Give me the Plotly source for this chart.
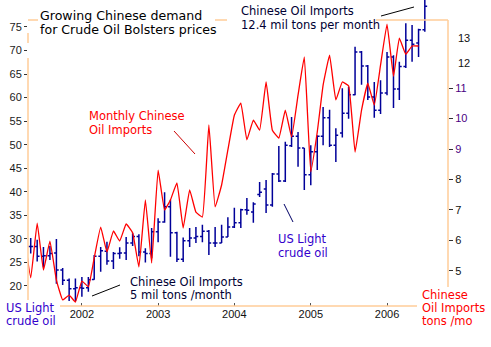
import plotly.graph_objects as go
import pandas as pd

# ---------------- data ----------------
bar_months = pd.date_range("2001-05-01", periods=63, freq="MS")
imp_months = pd.date_range("2001-04-01", periods=63, freq="MS")

oil_open = [28.4, 28.4, 26.3, 26.4, 27.0, 23.4, 21.2, 19.4, 19.6, 19.6,
            21.4, 26.3, 27.4, 25.3, 26.9, 27.0, 29.1, 30.5, 27.2, 26.9,
            31.5, 33.6, 36.8, 31.3, 25.7, 29.6, 30.2, 30.5, 31.6, 29.1,
            29.1, 30.4, 32.5, 33.4, 36.2, 35.7, 39.4, 40.6, 37.2, 43.8,
            42.3, 49.8, 51.8, 49.3, 43.6, 48.5, 51.8, 55.7, 49.9, 52.5,
            56.7, 60.6, 69.7, 66.7, 60.1, 57.3, 61.0, 68.6, 61.8, 66.6,
            72.2, 71.6, 74.4]
oil_high = [30.2, 29.8, 28.3, 28.5, 30.0, 23.8, 21.6, 21.6, 21.9, 21.9,
            26.6, 28.3, 29.4, 27.2, 28.2, 30.4, 31.2, 31.0, 28.0, 32.3,
            34.4, 39.9, 38.3, 31.5, 30.3, 32.3, 32.5, 33.0, 31.9, 32.5,
            33.0, 34.6, 36.6, 36.4, 38.7, 37.8, 42.1, 42.5, 44.0, 49.7,
            50.6, 55.9, 52.7, 49.3, 49.9, 52.0, 58.0, 57.4, 53.5, 62.0,
            62.3, 70.8, 69.9, 66.9, 63.3, 63.7, 69.7, 69.0, 67.6, 75.8,
            75.4, 74.6, 81.5]
oil_low = [26.9, 25.2, 24.0, 25.5, 20.5, 20.2, 16.8, 16.8, 17.7, 18.8,
           21.3, 23.0, 24.5, 23.6, 25.8, 25.5, 28.5, 26.3, 25.0, 25.9,
           29.3, 33.4, 26.2, 25.1, 25.1, 28.3, 29.1, 29.3, 26.6, 28.3,
           29.1, 30.4, 32.3, 32.3, 35.1, 33.4, 38.9, 35.5, 36.8, 42.1,
           42.1, 49.5, 45.3, 40.4, 41.4, 44.6, 49.9, 49.5, 46.3, 51.5,
           55.5, 60.5, 62.7, 59.5, 55.7, 56.5, 60.5, 57.8, 59.5, 66.3,
           67.6, 68.6, 74.0]
oil_close = [28.4, 26.3, 26.4, 26.9, 23.4, 21.2, 19.4, 19.6, 19.5, 21.3,
             26.3, 27.5, 25.3, 26.9, 27.0, 29.1, 30.5, 27.2, 26.9, 31.5,
             33.6, 36.8, 31.3, 25.7, 29.6, 30.2, 30.5, 31.6, 29.1, 29.1,
             30.4, 32.5, 33.4, 36.2, 36.1, 37.4, 39.9, 37.2, 43.8, 42.3,
             49.9, 51.8, 49.3, 43.6, 48.5, 51.8, 55.7, 49.9, 52.0, 56.7,
             60.6, 69.7, 66.7, 60.1, 57.3, 61.0, 68.6, 61.8, 66.6, 72.2,
             71.3, 74.4, 79.4]

china_imports = [6.18, 4.77, 6.57, 5.03, 5.98, 4.70, 4.05, 4.21, 3.98, 4.67,
                 4.48, 5.43, 6.44, 5.62, 6.31, 5.98, 6.54, 6.25, 5.13, 7.33,
                 5.26, 8.31, 7.00, 7.33, 7.89, 6.41, 7.66, 6.93, 6.77, 9.79,
                 7.10, 7.82, 8.97, 10.11, 10.51, 9.30, 9.95, 9.62, 11.20, 9.62,
                 9.36, 10.28, 9.39, 10.77, 12.02, 8.25, 9.56, 11.10, 12.08, 10.61,
                 11.20, 11.07, 8.90, 10.28, 11.16, 10.44, 11.75, 13.10, 11.39, 12.64,
                 12.11, 12.38, 12.38]

year_ticks = ["2002-01-01", "2003-01-01", "2004-01-01", "2005-01-01", "2006-01-01"]
year_labels = ["2002", "2003", "2004", "2005", "2006"]
left_ticks = [20, 25, 30, 35, 40, 45, 50, 55, 60, 65, 70, 75]
right_ticks = [5, 6, 7, 8, 9, 10, 11]

# ---------------- style ----------------
W, H = 491, 347
ML, MR, MT, MB = 28, 43, 0, 41
PW, PH = W - ML - MR, H - MT - MB
FONT = "DejaVu Sans, Verdana, sans-serif"
TICKFONT = "Liberation Sans, Arial, sans-serif"
BLUE = "#000099"
RED = "#FF0000"
ORANGE = "#FFCC99"
PURPLE = "#3300CC"


def px(x):
    return (x - ML) / PW


def py(y):
    return (MT + PH - y) / PH


fig = go.Figure()
fig.add_trace(go.Ohlc(
    x=bar_months, open=oil_open, high=oil_high, low=oil_low, close=oil_close,
    increasing=dict(line=dict(color=BLUE, width=1.5)),
    decreasing=dict(line=dict(color=BLUE, width=1.5)),
    tickwidth=0.4, showlegend=False, yaxis="y", hoverinfo="skip"))
fig.add_trace(go.Scatter(
    x=imp_months, y=china_imports, mode="lines",
    line=dict(color=RED, width=1.3, shape="spline", smoothing=0.3),
    yaxis="y2", showlegend=False, hoverinfo="skip"))

right_colors = ["#111111", "#111111", "#111111", "#111111", "#4B0082", "#4B0082", "#4B0082"]
right_text = [f'<span style="color:{c}">{v}</span>' for v, c in zip(right_ticks, right_colors)]

fig.update_layout(
    width=W, height=H,
    margin=dict(l=ML, r=MR, t=MT, b=MB, pad=0),
    paper_bgcolor="white", plot_bgcolor="white",
    showlegend=False,
    xaxis=dict(type="date", range=["2001-04-18", "2006-10-20"],
               tickvals=year_ticks, ticktext=year_labels,
               ticks="inside", ticklen=3, tickcolor="#555555",
               showline=False, showgrid=False, zeroline=False,
               rangeslider=dict(visible=False),
               tickfont=dict(family=TICKFONT, size=11, color="#111111")),
    yaxis=dict(range=[15.75, 80.72], tickvals=left_ticks,
               ticks="outside", ticklen=3, tickcolor="#333333",
               showline=False, showgrid=False, zeroline=False,
               tickfont=dict(family=TICKFONT, size=11, color="#1a1a1a")),
    yaxis2=dict(overlaying="y", side="right", range=[3.85, 13.89],
                tickvals=right_ticks, ticktext=right_text,
                ticks="outside", ticklen=4, tickcolor="#333333",
                showline=False, showgrid=False, zeroline=False,
                tickfont=dict(family=TICKFONT, size=11, color="#111111")),
)

shapes = []


def seg(x0, y0, x1, y1, color, width):
    shapes.append(dict(type="line", xref="paper", yref="paper",
                       x0=px(x0), y0=py(y0), x1=px(x1), y1=py(y1),
                       line=dict(color=color, width=width)))


# frame (orange) with gaps for text
seg(28, 20, 38, 20, ORANGE, 1.5)
seg(215, 20, 227, 20, ORANGE, 1.5)
seg(376, 20, 448, 20, ORANGE, 1.5)
seg(28, 33, 28, 43, ORANGE, 1.5)
seg(28, 58, 28, 300, ORANGE, 1.5)
seg(60, 306, 417, 306, ORANGE, 1.5)
seg(448, 20, 448, 287, ORANGE, 1.5)
# leader lines
seg(174, 131, 195, 154, "#CC0000", 1)
seg(92, 296, 120, 285, "#000000", 1)
seg(284, 204, 293, 222, "#000066", 1)
seg(381, 16, 414, 7, "#000000", 1)

annots = []


def txt(x, y, s, color, size=11.5, family=FONT):
    annots.append(dict(xref="paper", yref="paper", x=px(x - 1), y=py(y),
                       xanchor="left", yanchor="middle", text=s, showarrow=False,
                       font=dict(family=family, size=size, color=color)))


txt(39, 15.5, "Growing Chinese demand", "#000000", 12.6)
txt(39, 29.5, "for Crude Oil Bolsters prices", "#000000", 12.6)
txt(240, 11.5, "Chinese Oil Imports", "#000033")
txt(240, 24.5, "12.4 mil tons per month", "#000033")
txt(88, 116, "Monthly Chinese", RED)
txt(88, 129.5, "Oil Imports", RED)
txt(129, 281.5, "Chinese Oil Imports", "#000033")
txt(129, 295, "5 mil tons /month", "#000033")
txt(277, 239, "US Light", PURPLE)
txt(277, 252.5, "crude oil", PURPLE)
txt(5, 307.5, "US Light", PURPLE)
txt(5, 321, "crude oil", PURPLE)
txt(421, 295, "Chinese", RED)
txt(421, 308, "Oil Imports", RED)
txt(421, 321, "tons /mo", RED)
txt(457, 63, "12", "#111111", 11, TICKFONT)
txt(457, 38, "13", "#111111", 11, TICKFONT)

fig.update_layout(shapes=shapes, annotations=annots)
fig.write_html("out.html")
